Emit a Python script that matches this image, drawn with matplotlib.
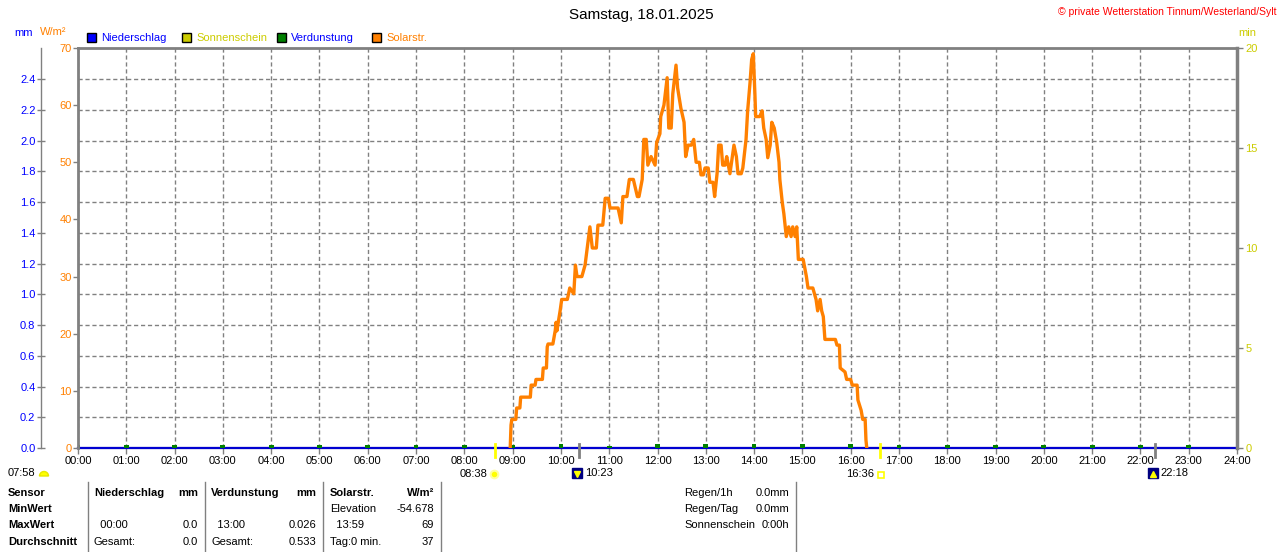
import matplotlib
matplotlib.use("Agg")
import matplotlib.pyplot as plt
import matplotlib.transforms as mtransforms
from matplotlib.patches import Rectangle, Wedge

plt.rcParams['font.family'] = ['Liberation Sans', 'DejaVu Sans']

FIG_W, FIG_H = 1280, 552
GRAY = '#808080'
BLUE = '#0000ff'
ORANGE = '#ff8000'
YELLOW = '#cccc00'
GREEN = '#008000'

# --- data -----------------------------------------------------------------
title = "Samstag, 18.01.2025"
copyright_text = "\u00a9 private Wetterstation Tinnum/Westerland/Sylt"

hours = list(range(25))
hour_labels = [f"{h:02d}:00" for h in hours]

mm_ticks = [0.0, 0.2, 0.4, 0.6, 0.8, 1.0, 1.2, 1.4, 1.6, 1.8, 2.0, 2.2, 2.4]
wm2_ticks = [0, 10, 20, 30, 40, 50, 60, 70]
min_ticks = [0, 5, 10, 15, 20]

# Solarstrahlung (W/m²)
solar_times = [
    "08:57", "08:58", "08:59", "09:04", "09:05", "09:09", "09:10", "09:22", "09:23", "09:28",
    "09:29", "09:37", "09:38", "09:42", "09:43", "09:44", "09:50", "09:53", "09:54", "09:55",
    "09:59", "10:01", "10:08", "10:11", "10:16", "10:18", "10:20", "10:26", "10:30", "10:36",
    "10:39", "10:44", "10:46", "10:52", "10:55", "10:59", "11:01", "11:11", "11:15", "11:17",
    "11:22", "11:25", "11:30", "11:35", "11:37", "11:41", "11:43", "11:46", "11:48", "11:52",
    "11:57", "11:59", "12:03", "12:04", "12:08", "12:12", "12:14", "12:17", "12:19", "12:23",
    "12:25", "12:29", "12:33", "12:35", "12:38", "12:42", "12:45", "12:48", "12:52", "12:54",
    "12:57", "12:59", "13:03", "13:05", "13:09", "13:11", "13:14", "13:16", "13:19", "13:21",
    "13:24", "13:26", "13:30", "13:33", "13:35", "13:38", "13:40", "13:44", "13:46", "13:50",
    "13:52", "13:55", "13:57", "13:59", "14:01", "14:02", "14:07", "14:10", "14:12", "14:15",
    "14:17", "14:20", "14:22", "14:25", "14:28", "14:31", "14:32", "14:35", "14:37", "14:40",
    "14:43", "14:46", "14:48", "14:51", "14:53", "14:55", "15:01", "15:05", "15:07", "15:13",
    "15:17", "15:19", "15:22", "15:24", "15:26", "15:28", "15:41", "15:43", "15:46", "15:47",
    "15:53", "15:55", "16:00", "16:02", "16:08", "16:09", "16:13", "16:15", "16:18", "16:19",
    "16:20",
]
solar_values = [
    0, 4, 5, 5, 7, 7, 8.9, 8.9, 11, 11,
    12, 12, 14, 14, 17.7, 18.2, 18.2, 20.6, 22, 20.5,
    24, 26, 26, 28, 27, 32, 30, 30, 32, 38.7,
    35, 35, 39, 39, 43.7, 43.7, 42, 42, 39.4, 44,
    44, 47, 47, 44, 44, 47, 54, 54, 49.5, 51,
    49.5, 53.5, 55, 58, 60, 64.8, 56, 56, 62, 67,
    63, 59.5, 57, 51, 53, 53, 54, 50, 50, 47.8,
    47.8, 49, 49, 46.5, 46.5, 44, 48, 53, 53, 49.5,
    49.5, 51, 48, 51, 53, 51, 48, 48, 49, 54,
    59, 64, 68, 69, 62, 58, 58, 59, 56, 54,
    50.8, 53, 57, 56, 53.6, 50, 47, 43, 41, 37,
    38.7, 37, 38.7, 37, 38.7, 33, 33, 30, 28, 28,
    26, 24, 26, 24, 23, 19, 19, 18, 18, 14,
    13.3, 12, 12, 11, 11, 8.4, 6.6, 5, 5, 1.4,
    0,
]

# Niederschlag (mm), hourly, no rain all day
precip_mm = [0.0] * 25
# Verdunstung (mm), hourly
evap_mm = [0.022, 0.022, 0.022, 0.022, 0.022, 0.022, 0.022, 0.022, 0.022, 0.022,
           0.024, 0.012, 0.025, 0.026, 0.024, 0.023, 0.023, 0.022, 0.022, 0.022,
           0.022, 0.022, 0.022, 0.021]

sunrise, sunset = "08:38", "16:36"
moonset, moonrise = "10:23", "22:18"
dawn = "07:58"

# summary table
row_labels = ["Sensor", "MinWert", "MaxWert", "Durchschnitt"]
precip_left = ["", "  00:00", "Gesamt:"]
precip_right = ["", "0.0", "0.0"]
evap_left = ["", "  13:00", "Gesamt:"]
evap_right = ["", "0.026", "0.533"]
solar_left = ["Elevation", "  13:59", "Tag:0 min."]
solar_right = ["-54.678", "69", "37"]
rain_left = ["Regen/1h", "Regen/Tag", "Sonnenschein"]
rain_right = ["0.0mm", "0.0mm", "0:00h"]

MM_TOP = 2.4 * 400 / 368.7


def to_hours(t):
    h, m = t.split(':')
    return int(h) + int(m) / 60.0


solar_h = [to_hours(t) for t in solar_times]

fig = plt.figure(figsize=(FIG_W / 100, FIG_H / 100), dpi=100)
ax = fig.add_axes([78 / FIG_W, 104 / FIG_H, 1159 / FIG_W, 400 / FIG_H])

# host axes: mm (Niederschlag / Verdunstung)
ax.set_xlim(0, 24)
ax.set_ylim(0, MM_TOP)
ax.set_xticks(hours)
ax.set_xticklabels(hour_labels)
ax.set_yticks(mm_ticks)
ax.set_yticklabels([f"{v:.1f}" for v in mm_ticks])
ax.tick_params(axis='x', direction='out', length=4, width=1, color=GRAY, pad=2,
               labelsize=8)
ax.tick_params(axis='y', direction='inout', length=6, width=1, color=GRAY,
               labelcolor=BLUE, pad=1, labelsize=8)
# mm spine sits 37 px left of the plot frame (outward is in points)
ax.spines['left'].set_position(('outward', 37 * 72 / 100))
ax.spines['left'].set_color(GRAY)
ax.spines['left'].set_linewidth(1)
ax.spines['top'].set_visible(False)
ax.spines['right'].set_visible(False)
ax.spines['bottom'].set_color(GRAY)
ax.spines['bottom'].set_linewidth(1.5)
ax.grid(True, color=GRAY, linestyle=(0, (3, 2)), linewidth=1)
ax.set_axisbelow(True)

ax.bar(hours[:24], evap_mm, width=0.1, color=GREEN, zorder=4)
ax.plot(hours, precip_mm, color='#0000d0', linewidth=1.6, clip_on=False, zorder=3)

# W/m² axis
ax_w = ax.twinx()
ax_w.yaxis.tick_left()
ax_w.set_ylim(0, 70)
ax_w.set_yticks(wm2_ticks)
ax_w.set_yticklabels([str(v) for v in wm2_ticks])
ax_w.tick_params(axis='y', direction='out', length=3.5, width=1, color=GRAY,
                 labelcolor=ORANGE, pad=1, labelsize=8)
for side in ['right', 'bottom']:
    ax_w.spines[side].set_visible(False)
for side in ['left', 'top']:
    ax_w.spines[side].set_color(GRAY)
    ax_w.spines[side].set_linewidth(2)
ax_w.plot(solar_h, solar_values, color=ORANGE, linewidth=2.4, zorder=5)

# Sonnenschein minutes axis
ax_m = ax.twinx()
ax_m.set_ylim(0, 20)
ax_m.set_yticks(min_ticks)
ax_m.set_yticklabels([str(v) for v in min_ticks])
ax_m.tick_params(axis='y', direction='out', length=4, width=1, color=GRAY,
                 labelcolor=YELLOW, pad=2, labelsize=8)
for side in ['left', 'top', 'bottom']:
    ax_m.spines[side].set_visible(False)
ax_m.spines['right'].set_color(GRAY)
ax_m.spines['right'].set_linewidth(2.5)

# sun / moon events under the time axis
trans = mtransforms.blended_transform_factory(ax.transData, ax.transAxes)


def shifted(dx, dy):
    return trans + mtransforms.ScaledTranslation(dx / 100, dy / 100, fig.dpi_scale_trans)


for t, col in [(sunrise, '#ffff00'), (sunset, '#ffff00'), (moonset, GRAY), (moonrise, GRAY)]:
    th = to_hours(t)
    ax.plot([th, th], [0.01, -0.022], transform=trans, color=col, linewidth=2,
            clip_on=False, zorder=6)

th = to_hours(sunrise)
ax.plot([th], [0], transform=shifted(-1, -26), marker='o', ms=5.5, mfc='#ffff00',
        mec='#ffffa0', mew=1.5, clip_on=False)
ax.annotate(sunrise, xy=(th, 0), xycoords=trans, xytext=(-7, -26),
            textcoords='offset pixels', ha='right', va='center', fontsize=8)

th = to_hours(sunset)
ax.plot([th], [0], transform=shifted(1, -27), marker='s', ms=4, mfc='white',
        mec='#ffff00', mew=1.2, clip_on=False)
ax.annotate(sunset, xy=(th, 0), xycoords=trans, xytext=(-6, -26),
            textcoords='offset pixels', ha='right', va='center', fontsize=8)

for t, arrow in [(moonset, 'v'), (moonrise, '^')]:
    th = to_hours(t)
    ax.plot([th], [0], transform=shifted(-2, -25), marker='s', ms=7, color='#000080',
            clip_on=False)
    ax.plot([th], [0], transform=shifted(-2, -26), marker=arrow, ms=4, color='#ffff00',
            clip_on=False)
    ax.annotate(t, xy=(th, 0), xycoords=trans, xytext=(6, -25),
                textcoords='offset pixels', ha='left', va='center', fontsize=8)

# overlay in pixel coordinates for legend, titles and table
ov = fig.add_axes([0, 0, 1, 1])
ov.set_xlim(0, FIG_W)
ov.set_ylim(FIG_H, 0)
ov.axis('off')

ov.text(641, 15, title, ha='center', va='center', fontsize=11)
ov.text(1277, 12, copyright_text, ha='right', va='center', fontsize=7.5, color='red')
ov.text(14, 33, "mm", ha='left', va='center', fontsize=8, color=BLUE)
ov.text(40, 32, "W/m\u00b2", ha='left', va='center', fontsize=8, color=ORANGE)
ov.text(1238, 33, "min", ha='left', va='center', fontsize=8, color=YELLOW)

legend = [("Niederschlag", BLUE, BLUE, 87),
          ("Sonnenschein", YELLOW, YELLOW, 182),
          ("Verdunstung", GREEN, BLUE, 277),
          ("Solarstr.", ORANGE, ORANGE, 372)]
for label, fc, tc, x in legend:
    ov.add_patch(Rectangle((x, 33), 9, 9, facecolor=fc, edgecolor='black', linewidth=1))
    ov.text(x + 14, 38, label, ha='left', va='center', fontsize=8, color=tc)

ov.text(8, 473, dawn, ha='left', va='center', fontsize=8)
ov.add_patch(Wedge((44, 476), 4.5, 180, 360, facecolor='#ffff00', edgecolor='#e8e800'))

# table
row_y = [493, 509, 525, 542]
for y, lab in zip(row_y, row_labels):
    ov.text(8, y, lab, ha='left', va='center', fontsize=8, fontweight='bold')
headers = [("Niederschlag", 94, "mm", 198), ("Verdunstung", 211, "mm", 316),
           ("Solarstr.", 330, "W/m\u00b2", 434)]
for name, xl, unit, xr in headers:
    ov.text(xl, row_y[0], name, ha='left', va='center', fontsize=8, fontweight='bold')
    ov.text(xr, row_y[0], unit, ha='right', va='center', fontsize=8, fontweight='bold')
columns = [(precip_left, 94, precip_right, 198), (evap_left, 211, evap_right, 316),
           (solar_left, 330, solar_right, 434)]
for lefts, xl, rights, xr in columns:
    for y, lt, rt in zip(row_y[1:], lefts, rights):
        ov.text(xl, y, lt, ha='left', va='center', fontsize=8)
        ov.text(xr, y, rt, ha='right', va='center', fontsize=8)
for y, lt, rt in zip(row_y[:3], rain_left, rain_right):
    ov.text(684, y, lt, ha='left', va='center', fontsize=8)
    ov.text(789, y, rt, ha='right', va='center', fontsize=8)
for x in [88, 205, 323, 441, 796]:
    ov.plot([x, x], [482, FIG_H], color=GRAY, linewidth=1)

fig.savefig("out.png", dpi=100)
